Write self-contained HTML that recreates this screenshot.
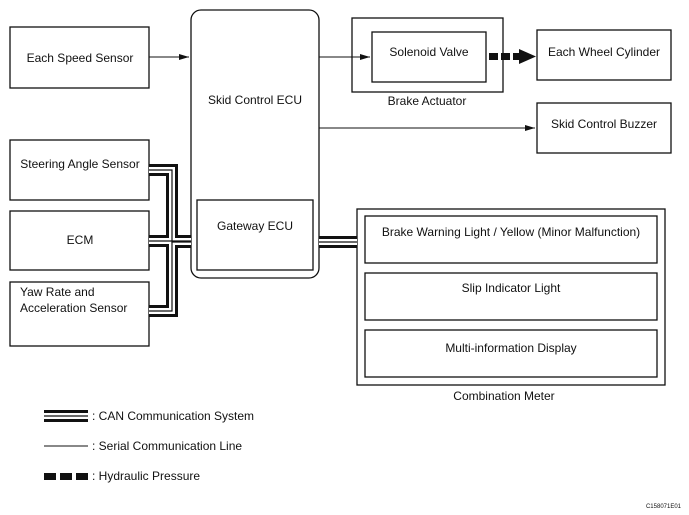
<!DOCTYPE html>
<html><head><meta charset="utf-8"><style>
html,body{margin:0;padding:0;background:#fff}
svg{display:block}
text{font-family:"Liberation Sans",Arial,sans-serif;font-size:12px;fill:#111}
</style></head><body>
<svg width="689" height="515" viewBox="0 0 689 515" xmlns="http://www.w3.org/2000/svg">
<defs><marker id="a" markerWidth="10" markerHeight="6" refX="10" refY="3" orient="auto" markerUnits="userSpaceOnUse"><path d="M0,0L10,3L0,6Z" fill="#111"/></marker></defs>
<g fill="none" stroke="#111" stroke-width="1.3">
<rect x="10" y="27" width="139" height="61"/>
<rect x="10" y="140" width="139" height="60"/>
<rect x="10" y="211" width="139" height="59"/>
<rect x="10" y="282" width="139" height="64"/>
<rect x="191" y="10" width="128" height="268" rx="10"/>
<rect x="197" y="200" width="116" height="70"/>
<rect x="352" y="18" width="151" height="74"/>
<rect x="372" y="32" width="114" height="50"/>
<rect x="537" y="30" width="134" height="50"/>
<rect x="537" y="103" width="134" height="50"/>
<rect x="357" y="209" width="308" height="176"/>
<rect x="365" y="216" width="292" height="47"/>
<rect x="365" y="273" width="292" height="47"/>
<rect x="365" y="330" width="292" height="47"/>
<line x1="149" y1="57" x2="189" y2="57" stroke-width="1" marker-end="url(#a)"/>
<line x1="319" y1="57" x2="370" y2="57" stroke-width="1" marker-end="url(#a)"/>
<line x1="319" y1="128" x2="535" y2="128" stroke-width="1" marker-end="url(#a)"/>
</g>
<g fill="#111"><rect x="489" y="53" width="9" height="7"/><rect x="501" y="53" width="9" height="7"/><rect x="513" y="53" width="7" height="7"/><path d="M519,49L536,56.5L519,64Z"/></g>
<g fill="none" stroke-linejoin="miter">
<g stroke="#111" stroke-width="12">
<path d="M149,170H172V242H191"/><path d="M149,241H191"/><path d="M149,311H172V242"/><path d="M319,242H357"/>
</g>
<g stroke="#fff" stroke-width="6">
<path d="M149,170H172V242H191"/><path d="M149,241H191"/><path d="M149,311H172V242"/><path d="M319,242H357"/>
</g>
<g stroke="#111" stroke-width="1.2">
<path d="M149,170H172V242H191"/><path d="M149,241H191"/><path d="M149,311H172V242"/><path d="M319,242H357"/>
</g>
</g>
<g fill="none">
<line x1="44" y1="416" x2="88" y2="416" stroke="#111" stroke-width="12"/>
<line x1="44" y1="416" x2="88" y2="416" stroke="#fff" stroke-width="6"/>
<line x1="44" y1="416" x2="88" y2="416" stroke="#111" stroke-width="1.2"/>
<line x1="44" y1="446" x2="88" y2="446" stroke="#111" stroke-width="1"/>
</g>
<g fill="#111"><rect x="44" y="473" width="12" height="7"/><rect x="60" y="473" width="12" height="7"/><rect x="76" y="473" width="12" height="7"/></g>
<text x="92" y="420">: CAN Communication System</text>
<text x="92" y="450">: Serial Communication Line</text>
<text x="92" y="480">: Hydraulic Pressure</text>
<text x="80" y="62" text-anchor="middle">Each Speed Sensor</text>
<text x="80" y="168" text-anchor="middle">Steering Angle Sensor</text>
<text x="80" y="244" text-anchor="middle">ECM</text>
<text x="20" y="296">Yaw Rate and</text>
<text x="20" y="312">Acceleration Sensor</text>
<text x="255" y="104" text-anchor="middle">Skid Control ECU</text>
<text x="255" y="230" text-anchor="middle">Gateway ECU</text>
<text x="429" y="56" text-anchor="middle">Solenoid Valve</text>
<text x="427" y="105" text-anchor="middle">Brake Actuator</text>
<text x="604" y="56" text-anchor="middle">Each Wheel Cylinder</text>
<text x="604" y="128" text-anchor="middle">Skid Control Buzzer</text>
<text x="511" y="236" text-anchor="middle">Brake Warning Light / Yellow (Minor Malfunction)</text>
<text x="511" y="292" text-anchor="middle">Slip Indicator Light</text>
<text x="511" y="352" text-anchor="middle">Multi-information Display</text>
<text x="504" y="400" text-anchor="middle">Combination Meter</text>
<text x="681" y="508" text-anchor="end" style="font-size:6px">C158071E01</text>
</svg>
</body></html>
